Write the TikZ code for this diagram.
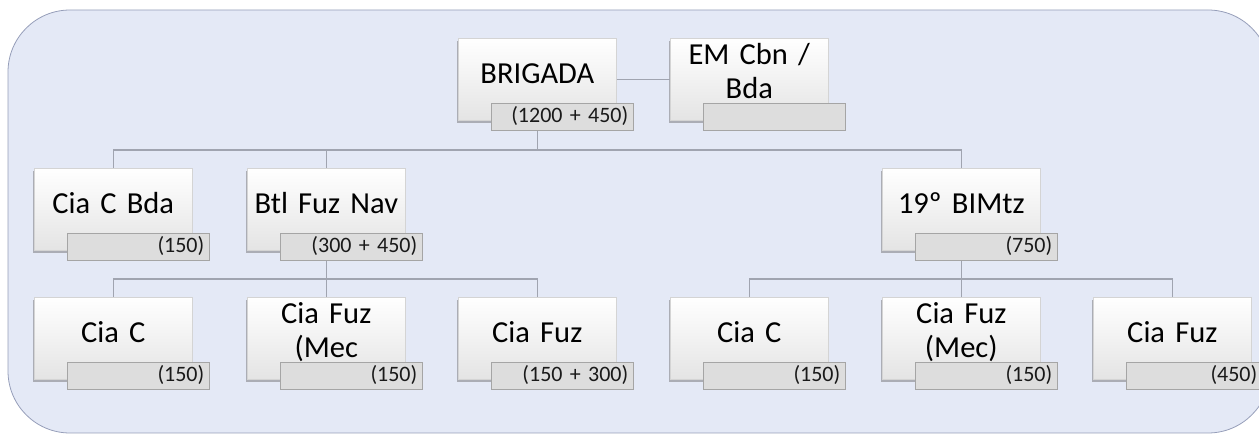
\documentclass[tikz,border=0pt]{standalone}
\usepackage{fontspec}
\setmainfont{Carlito}
\usetikzlibrary{shadows,calc}
\definecolor{bgfill}{RGB}{228,233,246}
\definecolor{bgline}{RGB}{150,158,185}
\definecolor{connc}{RGB}{160,164,176}
\definecolor{lblfill}{RGB}{221,221,221}
\definecolor{lblline}{RGB}{165,165,165}
\definecolor{boxline}{RGB}{212,212,212}
\definecolor{boxbot}{RGB}{228,228,228}
\newcommand\orgunit[6]{%
  \node[unitbox] (#1) at (#2,#3) {};
  \node[unittext] (#1t) at ($(#1.north)+(0,#4)$) {#5};
  \node[lbl] (#1l) at ($(#2,#3)+(33,65)$) {#6};
}
\begin{document}
\begin{tikzpicture}[x=1pt,y=-1pt,
  unitbox/.style={draw=boxline, line width=0.6pt, top color=white, middle color=white,
    bottom color=boxbot, minimum width=158pt, minimum height=82pt, inner sep=0pt,
    anchor=north west,
    drop shadow={shadow xshift=-1.5pt, shadow yshift=-2.5pt, opacity=0.45, fill=black!60}},
  unittext/.style={font=\fontsize{30.5}{34}\selectfont, text width=156pt, align=center,
    inner sep=0pt, anchor=base, text=black},
  lbl/.style={draw=lblline, fill=lblfill, line width=0.6pt, minimum width=142pt,
    minimum height=27pt, text width=132pt, align=right, inner xsep=5pt, inner ysep=3pt,
    text height=16pt, text depth=5pt, anchor=north west,
    font=\fontsize{22}{24}\selectfont, text=black!90},
  conn/.style={draw=connc, line width=1.3pt}]
\useasboundingbox (0,0) rectangle (1259,435);
\clip (0,0) rectangle (1259,435);
\draw[draw=bgline, fill=bgfill, rounded corners=62pt, line width=0.8pt] (8,10) rectangle (1270,433);
\coordinate (bus1) at (0,150);
\coordinate (bus2) at (0,279);
% row 1
\orgunit{brig}{458}{38}{46}{BRIGADA}{(1200 + 450)}
\orgunit{em}{670}{38}{27}{EM Cbn /\\Bda}{}
% row 2
\orgunit{ccb}{34}{168}{46}{Cia C Bda}{(150)}
\orgunit{btl}{247}{168}{46}{Btl Fuz Nav}{(300 + 450)}
\orgunit{bim}{882}{168}{46}{19º BIMtz}{(750)}
% row 3
\orgunit{c1}{34}{297}{46}{Cia C}{(150)}
\orgunit{c2}{247}{297}{27}{Cia Fuz\\(Mec}{(150)}
\orgunit{c3}{458}{297}{46}{Cia Fuz}{(150 + 300)}
\orgunit{c4}{670}{297}{46}{Cia C}{(150)}
\orgunit{c5}{882}{297}{27}{Cia Fuz\\(Mec)}{(150)}
\orgunit{c6}{1093}{297}{46}{Cia Fuz}{(450)\hspace*{6pt}}
% connectors
\draw[conn] (brig.east) -- (em.west);
\draw[conn] (brig.center |- brigl.south) -- (brig.center |- bus1) -| (ccb.north);
\draw[conn] (brig.center |- bus1) -| (btl.north);
\draw[conn] (brig.center |- bus1) -| (bim.north);
\draw[conn] (btl.center |- btll.south) -- (btl.center |- bus2) -| (c1.north);
\draw[conn] (btl.center |- bus2) -| (c2.north);
\draw[conn] (btl.center |- bus2) -| (c3.north);
\draw[conn] (bim.center |- biml.south) -- (bim.center |- bus2) -| (c4.north);
\draw[conn] (bim.center |- bus2) -| (c5.north);
\draw[conn] (bim.center |- bus2) -| (c6.north);
\end{tikzpicture}
\end{document}
